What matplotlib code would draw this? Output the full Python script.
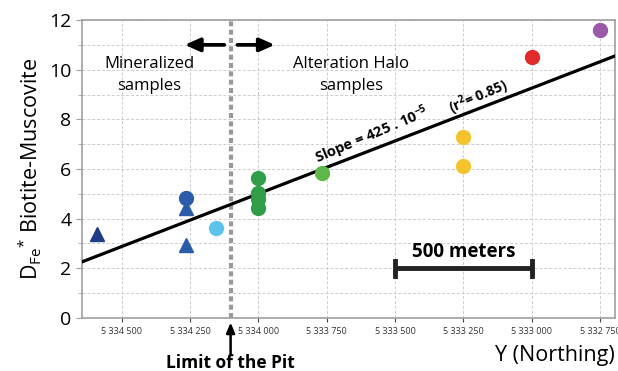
import numpy as np
import matplotlib.pyplot as plt
from matplotlib.ticker import FixedLocator, FuncFormatter, MultipleLocator

plt.rcParams['font.family'] = ['Open Sans', 'DejaVu Sans']
plt.rcParams['mathtext.fontset'] = 'custom'
plt.rcParams['mathtext.rm'] = 'Open Sans'
plt.rcParams['mathtext.it'] = 'Open Sans'
plt.rcParams['mathtext.bf'] = 'Open Sans:bold'

# samples: northing (m), D_Fe* biotite-muscovite
tri_navy_x = [5334591]
tri_navy_y = [3.39]
tri_blue_x = [5334266, 5334266]
tri_blue_y = [2.94, 4.43]
blue_x = [5334266]
blue_y = [4.84]
lightblue_x = [5334157]
lightblue_y = [3.63]
green_x = [5334000, 5334000, 5334000, 5334000]
green_y = [5.65, 5.04, 4.80, 4.43]
lightgreen_x = [5333766]
lightgreen_y = [5.85]
yellow_x = [5333250, 5333250]
yellow_y = [7.30, 6.13]
red_x = [5333000]
red_y = [10.52]
purple_x = [5332750]
purple_y = [11.60]

# regression
fit_slope = 425e-5
fit_x0 = 5334646
fit_y0 = 2.26

pit_x = 5334102
xticks = [5334500, 5334250, 5334000, 5333750, 5333500, 5333250, 5333000, 5332750]
xlim = (5334646, 5332695)

fig = plt.figure(figsize=(6.18, 3.71), dpi=100)
ax = fig.add_axes([0.1327, 0.1429, 0.8623, 0.8031])

ax.set_xlim(*xlim)
ax.set_ylim(0, 12)

ax.xaxis.set_major_locator(FixedLocator(xticks))
ax.xaxis.set_major_formatter(FuncFormatter(lambda v, p: f"{int(v):,}".replace(",", " ")))
ax.yaxis.set_major_locator(MultipleLocator(2))
ax.yaxis.set_minor_locator(MultipleLocator(1))
ax.grid(True, which='both', color='#cccccc', linestyle=(0, (3, 2)), linewidth=0.7)
ax.set_axisbelow(True)
for s in ax.spines.values():
    s.set_color('#a0a0a0')
    s.set_linewidth(1.2)
ax.tick_params(axis='x', labelsize=6.5, colors='#444444', length=3, labelcolor='#333333')
ax.tick_params(axis='y', labelsize=14, length=4, color='#a0a0a0', labelcolor='black')
ax.tick_params(axis='y', which='minor', length=3, color='#a0a0a0')

# fit line
lx = np.array(xlim, dtype=float)
ax.plot(lx, fit_y0 + fit_slope * (fit_x0 - lx), color='black', lw=2.3, zorder=3)

# pit limit
ax.axvline(pit_x, color='#999999', lw=3, linestyle=(0, (1.2, 0.8)), zorder=2)

ms = 10
ax.plot(tri_navy_x, tri_navy_y, '^', color='#1f3c85', ms=ms, ls='none', zorder=4)
ax.plot(tri_blue_x, tri_blue_y, '^', color='#2a5caa', ms=ms, ls='none', zorder=4)
ax.plot(blue_x, blue_y, 'o', color='#2a5caa', ms=ms, ls='none', zorder=4)
ax.plot(lightblue_x, lightblue_y, 'o', color='#5bc3ec', ms=ms, ls='none', zorder=4)
ax.plot(green_x, green_y, 'o', color='#2f9e47', ms=ms, ls='none', zorder=4)
ax.plot(lightgreen_x, lightgreen_y, 'o', color='#5db847', ms=ms, ls='none', zorder=4)
ax.plot(yellow_x, yellow_y, 'o', color='#f5c42c', ms=ms, ls='none', zorder=4)
ax.plot(red_x, red_y, 'o', color='#e12a2a', ms=ms, ls='none', zorder=4)
ax.plot(purple_x, purple_y, 'o', color='#9b59a8', ms=ms, ls='none', zorder=4)

# arrows around the pit limit
arr = dict(arrowstyle='-|>,head_length=0.9,head_width=0.4', color='black', lw=2.7,
           shrinkA=0, shrinkB=0)
ax.annotate('', xy=(5334270, 11), xytext=(5334125, 11), arrowprops=arr)
ax.annotate('', xy=(5333940, 11), xytext=(5334077, 11), arrowprops=arr)

ax.text(5334400, 9.8, 'Mineralized\nsamples', ha='center', va='center', fontsize=12,
        linespacing=1.5)
ax.text(5333660, 9.8, 'Alteration Halo\nsamples', ha='center', va='center', fontsize=12,
        linespacing=1.5)

ax.text(5333584, 7.38, r'Slope = 425 . 10$^{\mathbf{-5}}$', rotation=23, ha='center',
        va='center', fontsize=10.5, fontweight='bold', rotation_mode='anchor')
ax.text(5333193, 8.92, r'(r$^{\mathbf{2}}$= 0.85)', rotation=23, ha='center', va='center',
        fontsize=10, fontweight='bold', rotation_mode='anchor')

# scale bar
ax.plot([5333500, 5333000], [2, 2], color='#222222', lw=3.5, solid_capstyle='butt', zorder=3)
ax.plot([5333500, 5333500], [1.7, 2.3], color='#222222', lw=3.5, zorder=3)
ax.plot([5333000, 5333000], [1.7, 2.3], color='#222222', lw=3.5, zorder=3)
ax.text(5333250, 2.65, '500 meters', ha='center', va='center', fontsize=13.5, fontweight='bold')

# limit of the pit
ax.annotate('', xy=(pit_x, -0.18), xytext=(pit_x, -1.5), xycoords='data',
            arrowprops=dict(arrowstyle='-|>,head_length=0.6,head_width=0.25', color='black',
                            lw=1.8, shrinkA=0, shrinkB=0), annotation_clip=False)
ax.text(pit_x, -1.8, 'Limit of the Pit', ha='center', va='center', fontsize=12.5,
        fontweight='bold', clip_on=False)

ax.set_ylabel(r'D$_{\rm Fe}$$^{*}$ Biotite-Muscovite', fontsize=15.5, labelpad=4)
fig.text(0.995, 0.043, 'Y (Northing)', ha='right', va='center', fontsize=15.5)

fig.savefig('out.png', dpi=100)
